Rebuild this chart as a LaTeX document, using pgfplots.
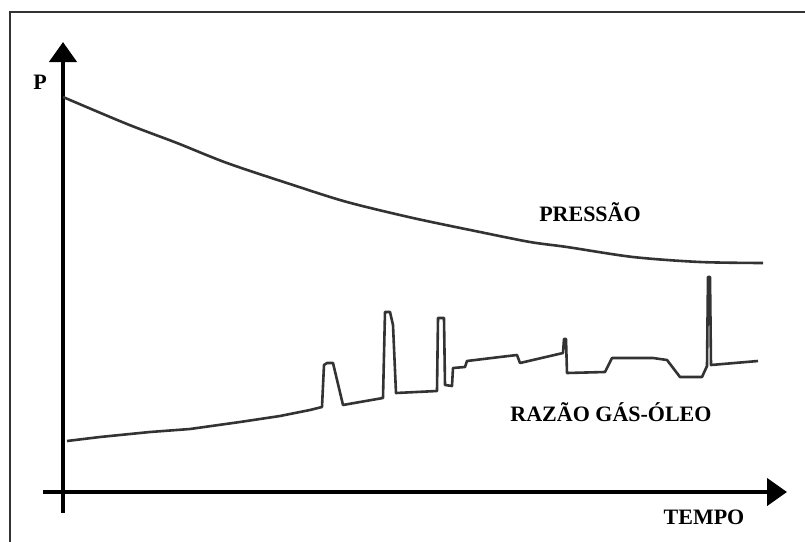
\documentclass[border=0pt]{standalone}
\usepackage{pgfplots}
\pgfplotsset{compat=1.18}
\usepackage{fontspec}
\setmainfont{Liberation Serif}
\usetikzlibrary{arrows.meta}
\definecolor{curve}{HTML}{333333}
\begin{document}
\begin{tikzpicture}
\begin{axis}[
  name=ax,
  scale only axis, width=402.5pt, height=271pt,
  xmin=0, xmax=805, ymin=0, ymax=542, y dir=reverse,
  axis lines=none, ticks=none, clip=false,
]
% frame (top and left edges visible)
\draw[line width=0.8pt, black!80] (axis cs:10,542) -- (axis cs:10,12) -- (axis cs:805,12);
% axes with arrows
\addplot[line width=2.2pt, black, -{Triangle[length=10pt,width=13.5pt]}] coordinates {(63,513) (63,42)};
\addplot[line width=2.2pt, black, -{Triangle[length=10pt,width=13.5pt]}] coordinates {(43,492) (787,492)};
% pressure
\addplot[line width=1.3pt, curve, smooth] coordinates {
(63,97) (127,124) (177,143) (227,163) (293,185) (347,202) (413,218)
(480,232) (530,242) (567,247) (633,257) (700,262) (763,263)};
% gas-oil ratio
\addplot[line width=1.3pt, curve, line join=round] coordinates {
(67,441) (100,437) (150,432) (190,429) (240,422) (280,416) (310,410) (322,407)
(324,365) (327,363) (333,363) (343,405) (360,402) (383,398)
(385,312) (390,312) (393,325) (396,393) (437,391)
(438,318) (444,318) (445,385) (452,386) (453,368) (465,367) (467,361)
(500,357) (517,355) (520,363) (563,353) (564,339) (566,339) (567,373)
(605,372) (612,358) (653,358) (667,360) (680,377) (702,377) (707,366)
(708,277) (710,277) (711,365) (758,361)};
% labels
\node[font=\fontsize{11}{13}\selectfont\bfseries] at (axis cs:40,82) {P};
\node[font=\fontsize{11}{13}\selectfont\bfseries] at (axis cs:590,212) {PRESSÃO};
\node[font=\fontsize{11}{13}\selectfont\bfseries] at (axis cs:611,412) {RAZÃO GÁS-ÓLEO};
\node[font=\fontsize{11}{13}\selectfont\bfseries] at (axis cs:704,517) {TEMPO};
\end{axis}
\pgfresetboundingbox
\path[use as bounding box] (ax.south west) rectangle (ax.north east);
\end{tikzpicture}
\end{document}
